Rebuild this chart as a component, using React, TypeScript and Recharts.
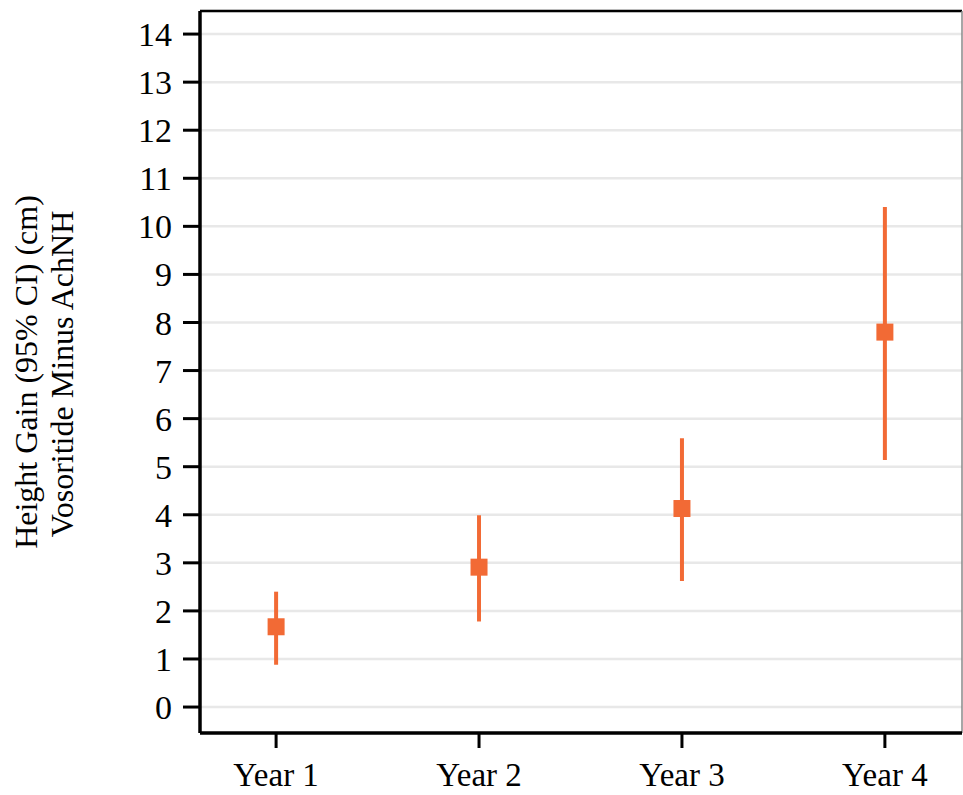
import React from 'react';
import {
  ComposedChart, Scatter, ErrorBar, XAxis, YAxis, CartesianGrid, ReferenceLine
} from 'recharts';

// values (cm, vosoritide minus AchNH)
const years = ['Year 1', 'Year 2', 'Year 3', 'Year 4'];
const means = [1.67, 2.91, 4.13, 7.8];
const lower = [0.88, 1.78, 2.62, 5.14];
const upper = [2.4, 3.99, 5.59, 10.4];
const yTicks = [0, 1, 2, 3, 4, 5, 6, 7, 8, 9, 10, 11, 12, 13, 14];

const ORANGE = '#f26a35';
const FONT = '"Liberation Serif", "Times New Roman", serif';

const chartData = years.map((name, i) => ({
  name,
  x: i + 1,
  y: means[i],
  ci: [means[i] - lower[i], upper[i] - means[i]],
}));

const Square = (props: any) => {
  const { cx, cy } = props;
  return <rect x={cx - 8.5} y={cy - 8.5} width={17} height={17} fill={ORANGE} />;
};

const AxisTitle = () => (
  <g fontFamily={FONT} fontSize={32} fill="#000">
    <text x={37} y={372} textAnchor="middle" transform="rotate(-90, 37, 372)">
      Height Gain (95% CI) (cm)
    </text>
    <text x={73} y={374} textAnchor="middle" transform="rotate(-90, 73, 374)">
      Vosoritide Minus AchNH
    </text>
  </g>
);

export default function App() {
  return (
    <div style={{ position: 'absolute', left: 0, top: 0, background: '#fff' }}>
      <ComposedChart
        width={963}
        height={795}
        data={chartData}
        margin={{ top: 11, right: 1, left: 0, bottom: 0 }}
      >
        <CartesianGrid vertical={false} stroke="#e8e8e8" strokeWidth={2.5} />
        <XAxis
          dataKey="x"
          type="number"
          domain={[0.625, 4.38]}
          ticks={[1, 2, 3, 4]}
          tickFormatter={(v: number) => years[v - 1]}
          height={62}
          axisLine={{ stroke: '#000', strokeWidth: 3.5 }}
          tickLine={{ stroke: '#000', strokeWidth: 3 }}
          tickSize={15}
          tickMargin={15}
          tick={{ fontSize: 33, fill: '#000', fontFamily: FONT }}
        />
        <YAxis
          type="number"
          domain={[-0.54, 14.48]}
          ticks={yTicks}
          width={200}
          axisLine={{ stroke: '#000', strokeWidth: 3.5 }}
          tickLine={{ stroke: '#000', strokeWidth: 3 }}
          tickSize={17}
          tickMargin={11}
          tick={{ fontSize: 34, fill: '#000', fontFamily: FONT }}
          label={<AxisTitle />}
        />
        <ReferenceLine y={14.48} stroke="#000" strokeWidth={2.5} ifOverflow="visible" />
        <ReferenceLine x={4.38} stroke="#888" strokeWidth={1.5} ifOverflow="visible" />
        <Scatter dataKey="y" fill={ORANGE} shape={<Square />} isAnimationActive={false}>
          <ErrorBar
            dataKey="ci"
            direction="y"
            width={0}
            stroke={ORANGE}
            strokeWidth={4}
            isAnimationActive={false}
          />
        </Scatter>
      </ComposedChart>
    </div>
  );
}
